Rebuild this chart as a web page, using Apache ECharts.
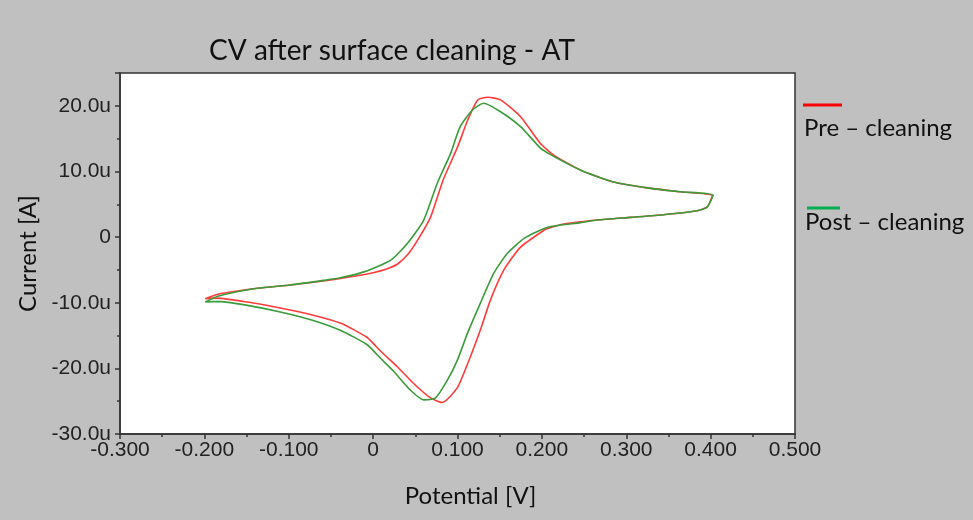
<!DOCTYPE html>
<html>
<head>
<meta charset="utf-8">
<title>CV after surface cleaning - AT</title>
<script src="https://cdn.jsdelivr.net/npm/echarts@6.0.0/dist/echarts.min.js"></script>
<style>
  html, body { margin: 0; padding: 0; background: #c0c0c0; }
  #chart { width: 973px; height: 520px; }
</style>
</head>
<body>
<div id="chart"></div>
<script>
// potential in V, current in uA, traced along the loop
const prePotential = [
  -0.199, -0.184, -0.137, -0.098, -0.059, -0.019, 0.001, 0.015, 0.029, 0.042, 0.054, 0.068,
  0.083, 0.100, 0.112, 0.124, 0.136, 0.151, 0.175, 0.198, 0.214, 0.246, 0.285, 0.325, 0.364, 0.402,
  0.396, 0.384, 0.344, 0.305, 0.266, 0.226, 0.207, 0.202, 0.175, 0.155, 0.139, 0.127, 0.115,
  0.100, 0.082, 0.068, 0.048, 0.029, 0.009, -0.007, -0.039, -0.071, -0.110, -0.149, -0.185, -0.199
]
const preCurrent = [
  -9.4, -8.7, -7.8, -7.3, -6.7, -5.9, -5.4, -4.9, -4.1, -2.5, -0.2, 3.0,
  8.7, 13.7, 17.8, 20.9, 21.3, 20.9, 18.3, 14.3, 12.5, 10.2, 8.4, 7.5, 6.9, 6.3,
  4.6, 4.0, 3.4, 3.0, 2.6, 2.0, 1.3, 1.0, -1.5, -5.0, -9.6, -14.2, -18.3,
  -22.9, -25.2, -24.5, -22.3, -19.8, -17.4, -15.3, -13.1, -11.9, -10.8, -9.9, -9.3, -9.4
]
const postPotential = [
  -0.199, -0.184, -0.137, -0.098, -0.059, -0.039, -0.011, 0.021, 0.041, 0.060, 0.076, 0.092,
  0.103, 0.118, 0.131, 0.151, 0.175, 0.198, 0.214, 0.246, 0.285, 0.325, 0.364, 0.403,
  0.396, 0.384, 0.344, 0.305, 0.266, 0.246, 0.207, 0.179, 0.159, 0.143, 0.127, 0.112,
  0.100, 0.088, 0.074, 0.060, 0.044, 0.024, 0.009, -0.007, -0.039, -0.071, -0.110, -0.149, -0.185, -0.199
]
const postCurrent = [
  -9.9, -9.0, -7.8, -7.3, -6.6, -6.2, -5.3, -3.5, -0.9, 2.6, 8.2, 12.8,
  16.8, 19.4, 20.4, 19.1, 16.8, 13.6, 12.3, 10.2, 8.4, 7.5, 6.9, 6.4,
  4.6, 4.0, 3.4, 3.0, 2.6, 2.2, 1.5, -0.2, -2.5, -5.5, -10.1, -14.6,
  -18.7, -21.8, -24.5, -24.8, -23.3, -20.4, -18.5, -16.4, -14.2, -12.7, -11.4, -10.4, -9.8, -9.9
]
const seriesNames = ['Pre – cleaning', 'Post – cleaning']
const seriesColors = ['#ff3c3c', '#3a9c3a']
const legendColors = ['#ff0000', '#00b050']

const pairs = (xs, ys) => xs.map((x, i) => [x, ys[i]])

const chart = echarts.init(document.getElementById('chart'))
const labelFont = { color: '#222', fontFamily: '"Liberation Sans", Arial, sans-serif', fontSize: 21 }
const textFont = '"Lato", "Open Sans", sans-serif'

chart.setOption({
  backgroundColor: '#c0c0c0',
  animation: false,
  title: {
    text: 'CV after surface cleaning - AT',
    left: 387,
    top: 32,
    textAlign: 'center',
    textStyle: { fontFamily: textFont, fontWeight: 'normal', fontSize: 28, color: '#111' },
  },
  grid: {
    left: 120, right: 178, top: 73, bottom: 86,
    show: true, backgroundColor: '#ffffff', borderColor: '#333', borderWidth: 1.5,
  },
  xAxis: {
    type: 'value',
    min: -0.3, max: 0.5, interval: 0.1,
    name: 'Potential [V]',
    nameLocation: 'middle',
    nameGap: 50,
    nameTextStyle: { fontFamily: textFont, fontSize: 24, color: '#111', padding: [0, 0, 0, 26] },
    axisLine: { onZero: false, lineStyle: { color: '#333', width: 1.5 } },
    axisTick: { length: 5, lineStyle: { color: '#333', width: 1.5 } },
    minorTick: { show: true, splitNumber: 2, length: 3, lineStyle: { color: '#333', width: 1.5 } },
    splitLine: { show: false },
    axisLabel: {
      ...labelFont, margin: 6,
      formatter: (v) => Math.abs(v) < 1e-9 ? '0' : v.toFixed(3),
    },
  },
  yAxis: {
    type: 'value',
    min: -30, max: 25, interval: 10,
    name: 'Current [A]',
    nameLocation: 'middle',
    nameRotate: 90,
    nameGap: 76,
    nameTextStyle: { fontFamily: textFont, fontSize: 24, color: '#111' },
    axisLine: { onZero: false, lineStyle: { color: '#333', width: 1.5 } },
    axisTick: { length: 5, lineStyle: { color: '#333', width: 1.5 } },
    minorTick: { show: true, splitNumber: 2, length: 3, lineStyle: { color: '#333', width: 1.5 } },
    splitLine: { show: false },
    axisLabel: {
      ...labelFont, margin: 9, showMaxLabel: false,
      formatter: (v) => Math.abs(v) < 1e-9 ? '0' : v.toFixed(1) + 'u',
    },
  },
  series: [
    {
      name: seriesNames[0], type: 'line', showSymbol: false, smooth: 0.2,
      data: pairs(prePotential, preCurrent),
      lineStyle: { color: seriesColors[0], width: 1.6 },
      itemStyle: { color: seriesColors[0] },
    },
    {
      name: seriesNames[1], type: 'line', showSymbol: false, smooth: 0.2,
      data: pairs(postPotential, postCurrent),
      lineStyle: { color: seriesColors[1], width: 1.6 },
      itemStyle: { color: seriesColors[1] },
    },
  ],
  graphic: [
    { type: 'line', shape: { x1: 803, y1: 105, x2: 842, y2: 105 }, style: { stroke: legendColors[0], lineWidth: 3 } },
    { type: 'text', left: 804, top: 116, style: { text: seriesNames[0], font: '24px ' + textFont, fill: '#111' } },
    { type: 'line', shape: { x1: 807, y1: 208, x2: 840, y2: 208 }, style: { stroke: legendColors[1], lineWidth: 3 } },
    { type: 'text', left: 805, top: 210, style: { text: seriesNames[1], font: '24px ' + textFont, fill: '#111' } },
  ],
})
</script>
</body>
</html>
